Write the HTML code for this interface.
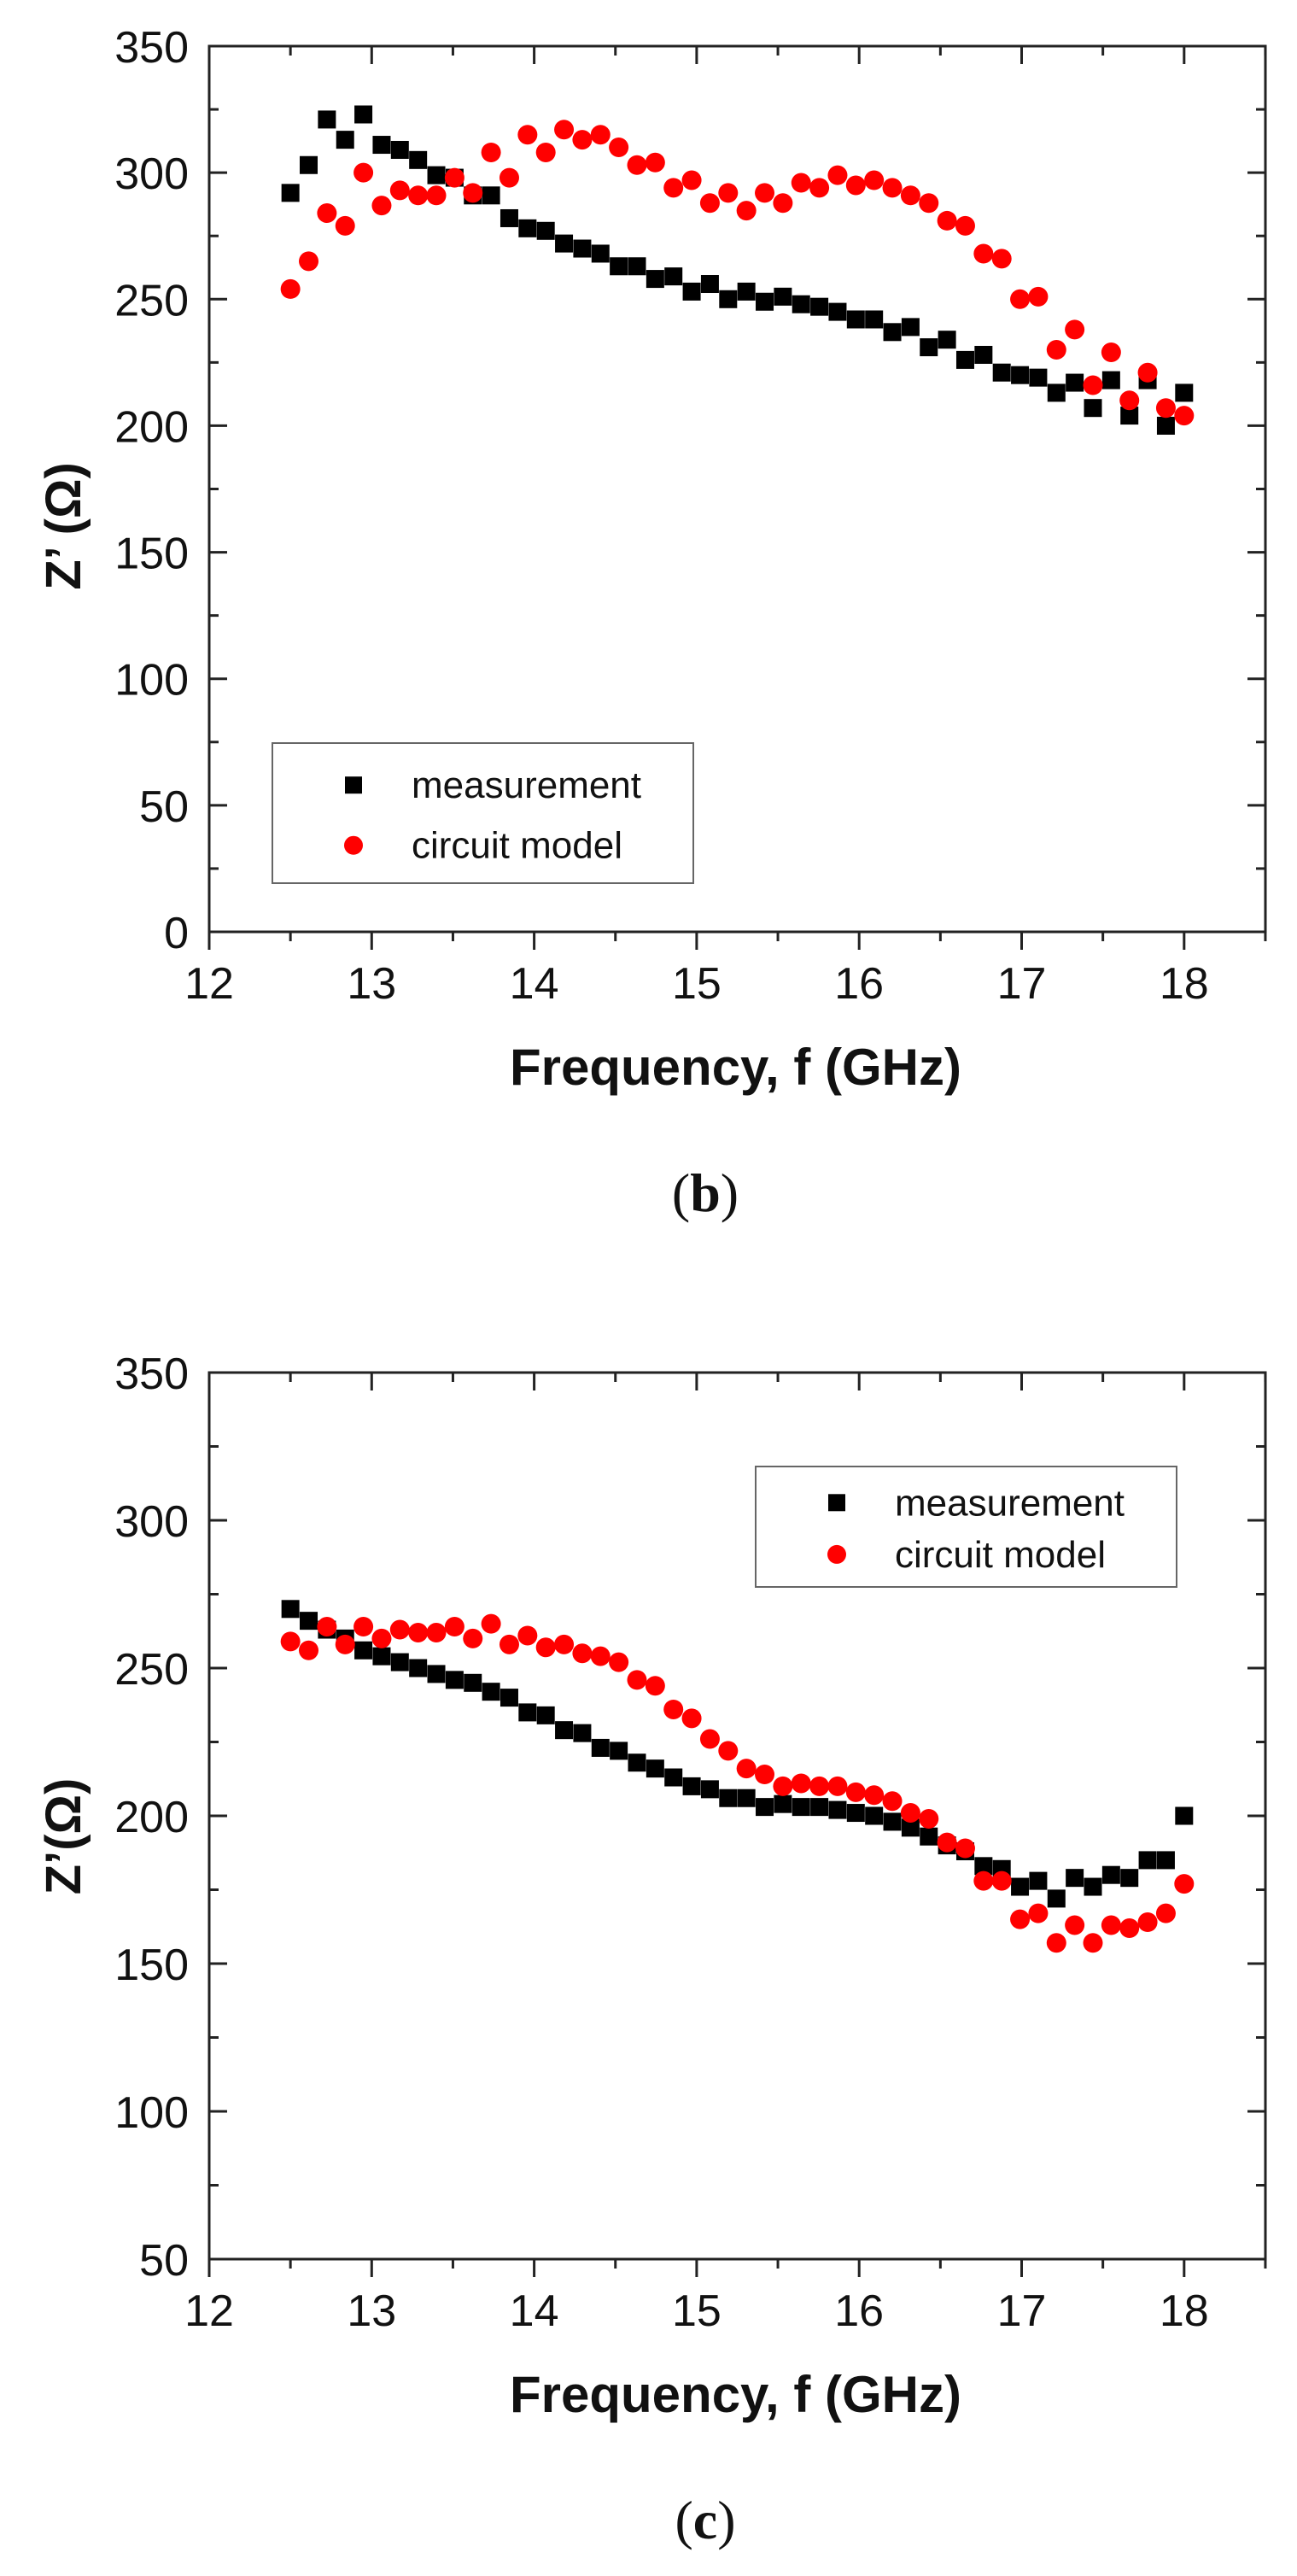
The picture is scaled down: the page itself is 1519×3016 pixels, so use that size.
<!DOCTYPE html>
<html><head><meta charset="utf-8"><style>
html,body{margin:0;padding:0;background:#fff;}
svg{display:block;font-family:"Liberation Sans",sans-serif;}
</style></head><body>
<svg id="svg" width="1519" height="3016" viewBox="0 0 1519 3016" xmlns="http://www.w3.org/2000/svg"></svg>
<script>
const freqStart = 12.5, freqEnd = 18;
const measB = [292,303,321,313,323,311,309,305,299,298,291,291,282,278,277,272,270,268,263,263,258,259,253,256,250,253,249,251,248,247,245,242,242,237,239,231,234,226,228,221,220,219,213,217,207,218,204,218,200,213];
const modelB = [254,265,284,279,300,287,293,291,291,298,292,308,298,315,308,317,313,315,310,303,304,294,297,288,292,285,292,288,296,294,299,295,297,294,291,288,281,279,268,266,250,251,230,238,216,229,210,221,207,204];
const measC = [270,266,263,260,256,254,252,250,248,246,245,242,240,235,234,229,228,223,222,218,216,213,210,209,206,206,203,204,203,203,202,201,200,198,196,193,190,188,183,182,176,178,172,179,176,180,179,185,185,200];
const modelC = [259,256,264,258,264,260,263,262,262,264,260,265,258,261,257,258,255,254,252,246,244,236,233,226,222,216,214,210,211,210,210,208,207,205,201,199,191,189,178,178,165,167,157,163,157,163,162,164,167,177];
const xTicks = [12,13,14,15,16,17,18];
const yTicksB = [0,50,100,150,200,250,300,350];
const yTicksC = [50,100,150,200,250,300,350];

const NS = "http://www.w3.org/2000/svg";
const svg = document.getElementById('svg');
function mk(tag, attrs, parent){const e=document.createElementNS(NS,tag);for(const k in attrs)e.setAttribute(k,attrs[k]);(parent||svg).appendChild(e);return e;}

function chart(id, top, bottom, yMin, yMax, yTicks, meas, model, legend, caption, capY, yTitleY){
  const g = mk('g',{});
  
  
  const L=245,R=1482;
  const X=v=>L+(v-12)*190.3;
  const Y=v=>bottom-(v-yMin)/(yMax-yMin)*(bottom-top);
  const frame=mk('rect',{x:L,y:top,width:R-L,height:bottom-top,fill:'none',stroke:'#222','stroke-width':3},g);
  
  
  for(let v=12;v<=18.5001;v+=0.5){
    const major=Math.abs(v-Math.round(v))<1e-6; const len=major?21:11;
    mk('line',{x1:X(v),x2:X(v),y1:bottom,y2:bottom+len,stroke:'#222','stroke-width':3},g);
    mk('line',{x1:X(v),x2:X(v),y1:top,y2:top+len,stroke:'#222','stroke-width':3},g);
  }
  xTicks.forEach(v=>{const t=mk('text',{x:X(v),y:bottom+78,'font-size':52,'text-anchor':'middle',fill:'#111'},g);t.textContent=v;
    });
  for(let v=yMin;v<=yMax+1e-6;v+=25){
    const major=(v%50)===0; const len=major?21:11;
    mk('line',{x1:L,x2:L+len,y1:Y(v),y2:Y(v),stroke:'#222','stroke-width':3},g);
    mk('line',{x1:R,x2:R-len,y1:Y(v),y2:Y(v),stroke:'#222','stroke-width':3},g);
  }
  yTicks.forEach(v=>{const t=mk('text',{x:221,y:Y(v)+19,'font-size':52,'text-anchor':'end',fill:'#111'},g);t.textContent=v;
    });
  const xt=mk('text',{x:597,y:bottom+179,'font-size':60,'font-weight':'bold','text-anchor':'start',fill:'#111'},g);
  xt.textContent='Frequency, f (GHz)';
  
  const yt=mk('text',{x:0,y:0,'font-size':58,'font-weight':'bold','text-anchor':'middle',fill:'#111',transform:`translate(94,${yTitleY}) rotate(-90)`},g);
  yt.textContent=(id==='chart-b')?'Z\u2019 (\u03A9)':'Z\u2019(\u03A9)';
  
  const n=meas.length, step=(freqEnd-freqStart)/(n-1);
  meas.forEach((v,i)=>{const f=freqStart+i*step;const r=mk('rect',{x:X(f)-10.5,y:Y(v)-10.5,width:21,height:21,fill:'#000'},g);
    });
  model.forEach((v,i)=>{const f=freqStart+i*step;const c=mk('circle',{cx:X(f),cy:Y(v),r:11.5,fill:'#f00'},g);
    });
  const lg=mk('g',{},g);
  
  mk('rect',{x:legend.x,y:legend.y,width:legend.w,height:legend.h,fill:'#fff',stroke:'#666','stroke-width':2},lg);
  const mx=legend.x+95, r1=legend.y+legend.h*0.3, r2=legend.y+legend.h*0.73;
  mk('rect',{x:mx-10,y:r1-10,width:20,height:20,fill:'#000'},lg);
  mk('circle',{cx:mx,cy:r2,r:11,fill:'#f00'},lg);
  const t1=mk('text',{x:mx+68,y:r1+15,'font-size':44,fill:'#111'},lg);t1.textContent='measurement';
  
  const t2=mk('text',{x:mx+68,y:r2+15,'font-size':44,fill:'#111'},lg);t2.textContent='circuit model';
  
  const cap=mk('text',{x:826,y:capY,'font-size':64,'text-anchor':'middle',fill:'#111','font-family':'Liberation Serif, serif'},g);
  cap.innerHTML='(<tspan font-weight="bold">'+caption+'</tspan>)';
  
}
chart('chart-b',54,1091,0,350,yTicksB,measB,modelB,{x:319,y:870,w:493,h:164},'b',1418,616);
chart('chart-c',1607,2645,50,350,yTicksC,measC,modelC,{x:885,y:1717,w:493,h:141},'c',2972,2150);
</script>
</body></html>
